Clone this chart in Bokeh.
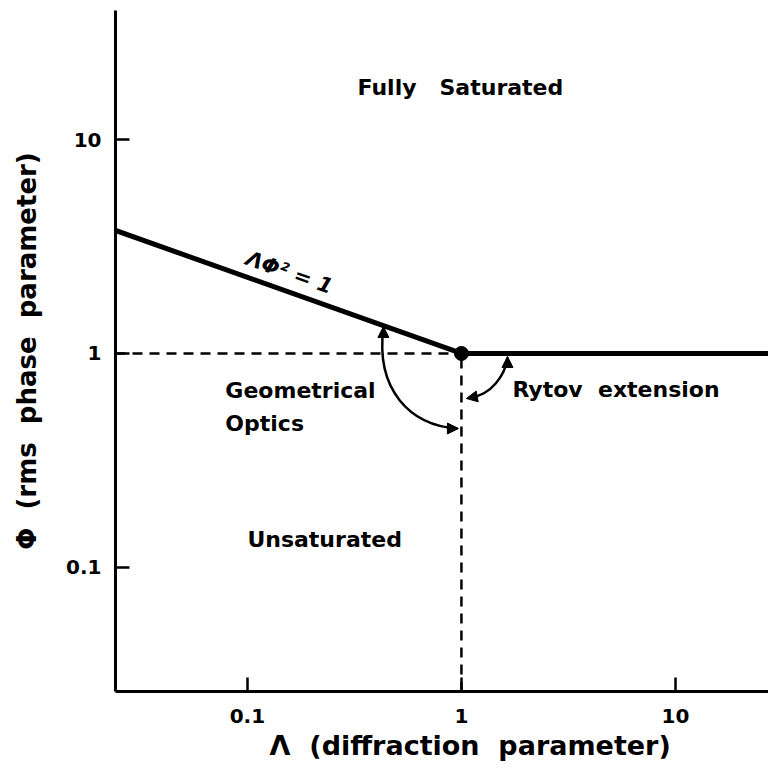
import math
from bokeh.plotting import figure
from bokeh.models import FixedTicker, Arrow, NormalHead, ColumnDataSource
from bokeh.core.properties import value
from bokeh.embed import file_html
from bokeh.resources import INLINE

NB = "\u00a0"

# ---- axis extents and ticks ----
lam_range = (0.0242, 27.2)
phi_range = (0.0263, 40.1)
tick_values = [0.1, 1, 10]
tick_labels = ["0.1", "1", "10"]

# ---- boundary: ΛΦ² = 1 branch, then Rytov branch at Φ = 1 ----
boundary_lam = [0.0242, 1.0, 27.2]
boundary_phi = [3.76, 1.0, 1.0]

# ---- dashed guides ----
hguide_lam = [0.0242, 1.0]
hguide_phi = [1.0, 1.0]
vguide_lam = [1.0, 1.0]
vguide_phi = [0.0263, 1.0]

corner_lam = [1.0]
corner_phi = [1.0]

# ---- region labels ----
region_text = ["Fully" + NB * 3 + "Saturated", "Geometrical", "Optics",
               "Rytov" + NB * 2 + "extension", "Unsaturated"]
region_lam = [0.327, 0.0789, 0.0789, 1.73, 0.1]
region_phi = [17.5, 0.672, 0.471, 0.679, 0.135]

curve_text = ["ΛΦ² = 1"]
curve_lam = [0.157]
curve_phi = [2.39]

# ---- curved double arrows (cubic Bezier) ----
arc_x0 = [0.432, 1.102]
arc_y0 = [1.323, 0.623]
arc_x1 = [0.958, 1.641]
arc_y1 = [0.446, 0.958]
arc_cx0 = [0.396, 1.366]
arc_cy0 = [0.672, 0.636]
arc_cx1 = [0.578, 1.605]
arc_cy1 = [0.461, 0.789]

head_x0 = [0.432, 0.860, 1.188, 1.641]
head_y0 = [1.188, 0.446, 0.630, 0.870]
head_x1 = [0.432, 0.968, 1.055, 1.641]
head_y1 = [1.337, 0.446, 0.616, 0.968]

FONT = value("DejaVu Sans")

p = figure(width=768, height=777, x_axis_type="log", y_axis_type="log",
           x_range=lam_range, y_range=phi_range,
           output_backend="svg", toolbar_location=None,
           min_border_left=115, min_border_right=0, min_border_top=10,
           min_border_bottom=86)
p.outline_line_color = None
p.xgrid.grid_line_color = None
p.ygrid.grid_line_color = None
p.background_fill_color = "white"
p.border_fill_color = "white"

for ax in (p.xaxis[0], p.yaxis[0]):
    ax.ticker = FixedTicker(ticks=tick_values, minor_ticks=[])
    ax.major_label_overrides = {v: t for v, t in zip(tick_values, tick_labels)}
    ax.axis_line_width = 3
    ax.axis_line_color = "black"
    ax.major_tick_in = 14
    ax.major_tick_out = 0
    ax.major_tick_line_width = 2.5
    ax.minor_tick_line_color = None
    ax.major_label_text_font = "DejaVu Sans"
    ax.major_label_text_font_style = "bold"
    ax.major_label_text_font_size = "20px"
    ax.major_label_text_color = "black"
    ax.axis_label_text_font = "DejaVu Sans"
    ax.axis_label_text_font_style = "bold"
    ax.axis_label_text_color = "black"
p.xaxis.major_label_standoff = 17
p.yaxis.major_label_standoff = 14

p.xaxis.axis_label = NB * 6 + "Λ" + NB * 2 + "(diffraction" + NB * 2 + "parameter)"
p.xaxis.axis_label_text_font_size = "27px"
p.xaxis.axis_label_standoff = 4
p.yaxis.axis_label = "Φ" + NB * 2 + "(rms" + NB * 2 + "phase" + NB * 2 + "parameter)"
p.yaxis.axis_label_text_font_size = "26px"
p.yaxis.axis_label_standoff = 21

# dashed guides
p.line(hguide_lam, hguide_phi, line_color="black", line_width=2.5, line_dash="10 7")
p.line(vguide_lam, vguide_phi, line_color="black", line_width=2.5, line_dash="10 7")

# boundary
p.line(boundary_lam, boundary_phi, line_color="black", line_width=5)
p.scatter(corner_lam, corner_phi, size=14, color="black")

# arcs
p.bezier(x0=arc_x0, y0=arc_y0, x1=arc_x1, y1=arc_y1,
         cx0=arc_cx0, cy0=arc_cy0, cx1=arc_cx1, cy1=arc_cy1,
         line_color="black", line_width=2.5)
heads = ColumnDataSource(dict(xs=head_x0, ys=head_y0, xe=head_x1, ye=head_y1))
p.add_layout(Arrow(end=NormalHead(size=11, fill_color="black", line_color="black", line_width=1),
                   x_start="xs", y_start="ys", x_end="xe", y_end="ye", source=heads,
                   line_color="black", line_width=2.5))

# text
p.text(region_lam, region_phi, text=region_text, text_font=FONT, text_font_style="bold",
       text_font_size="22px", text_align="left", text_baseline="middle", text_color="black")
p.text(curve_lam, curve_phi, text=curve_text, text_font=FONT, text_font_style="bold italic",
       text_font_size="21px", text_align="center", text_baseline="middle",
       angle=-0.335, text_color="black")

open("out.html", "w").write(file_html(p, INLINE))
